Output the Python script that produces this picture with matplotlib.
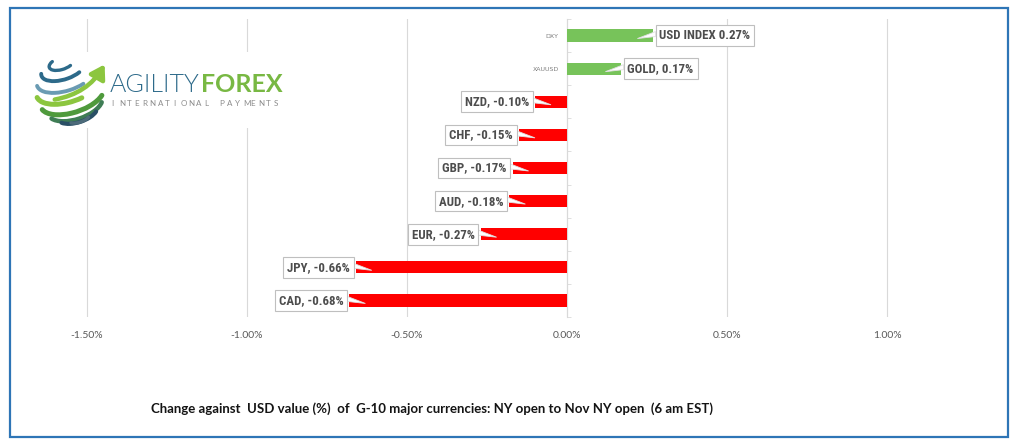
import matplotlib
matplotlib.use("Agg")
import matplotlib.pyplot as plt
from matplotlib.patches import Polygon, Rectangle, Arc, FancyArrowPatch
import numpy as np

# ---- data ----
categories = ["CAD", "JPY", "EUR", "AUD", "GBP", "CHF", "NZD", "XAUUSD", "DXY"]
values = [-0.68, -0.66, -0.27, -0.18, -0.17, -0.15, -0.10, 0.17, 0.27]
labels = ["CAD, -0.68%", "JPY, -0.66%", "EUR, -0.27%", "AUD, -0.18%", "GBP, -0.17%",
          "CHF, -0.15%", "NZD, -0.10%", "GOLD, 0.17%", "USD INDEX 0.27%"]
xticks = [-1.5, -1.0, -0.5, 0.0, 0.5, 1.0]
xticklabels = ["-1.50%", "-1.00%", "-0.50%", "0.00%", "0.50%", "1.00%"]
title = "Change against  USD value (%)  of  G-10 major currencies: NY open to Nov NY open  (6 am EST)"

W, H = 1024, 447
fig = plt.figure(figsize=(W / 100, H / 100), dpi=100)
fig.patch.set_facecolor("white")
FAM = ["Lato", "DejaVu Sans"]
LABFAM = ["Roboto Condensed", "DejaVu Sans"]


def fx(px):
    return px / W


def fy(py):
    return 1 - py / H


# axes in pixel terms
axL, axR, axT, axB = 71, 983, 19, 317
ax = fig.add_axes([fx(axL), fy(axB), fx(axR - axL), (axB - axT) / H])
ax.set_xlim(-1.55, 1.3)
ax.set_ylim(-0.5, 8.5)

pos_col = "#77c35a"
neg_col = "#ff0000"
y = np.arange(len(categories))
colors = [pos_col if v > 0 else neg_col for v in values]
ax.barh(y, values, height=0.37, color=colors, zorder=3)

for s in ["top", "right", "bottom"]:
    ax.spines[s].set_visible(False)
ax.spines["left"].set_position(("data", 0))
ax.spines["left"].set_color("#d9d9d9")
ax.spines["left"].set_zorder(1)
ax.set_xticks(xticks)
ax.set_xticklabels(xticklabels)
ax.tick_params(axis="x", length=0, pad=10, labelsize=7.5, labelcolor="#595959")
for t in ax.get_xticklabels():
    t.set_fontfamily(FAM)
ax.xaxis.grid(True, color="#d9d9d9", linewidth=0.8, zorder=0)
ax.set_axisbelow(True)

ax.set_yticks(y)
ax.set_yticklabels(categories)
ax.tick_params(axis="y", length=0, pad=6, labelsize=4.5)
for t, v in zip(ax.get_yticklabels(), values):
    t.set_color("#7f7f7f" if v > 0 else "#e40000")
    t.set_zorder(2)
ax.set_yticks(np.arange(-0.5, len(categories), 1.0), minor=True)
ax.tick_params(axis="y", which="minor", length=3, color="#d9d9d9", direction="in")

fig.canvas.draw()
renderer = fig.canvas.get_renderer()

for yi, v, lab in zip(y, values, labels):
    bx, by = ax.transData.transform((v, yi))
    sign = 1 if v > 0 else -1
    tx = bx + sign * 6
    t = fig.text(fx(tx), fy(H - by), lab, ha="left" if v > 0 else "right", va="center",
                 fontsize=9.3, fontweight="bold", color="#4d4d4d",
                 family=LABFAM, zorder=6,
                 bbox=dict(boxstyle="square,pad=0.3", fc="white", ec="#bfbfbf", lw=0.8))
    fig.canvas.draw()
    bb = t.get_bbox_patch().get_window_extent(renderer)
    edge = bb.x0 if v > 0 else bb.x1
    tri = [(edge, by + 4), (edge, by - 1), (bx - sign * 16, by - 3)]
    fig.patches.append(Polygon(tri, closed=True, transform=None, fc="white",
                               ec="#e0e0e0", lw=0.6, zorder=5, figure=fig))

# title
fig.text(fx(432), fy(409), title, ha="center", va="center", fontsize=9.5,
         fontweight="bold", color="#141414", family=FAM)

# outer border
fig.patches.append(Rectangle((fx(10), fy(437)), fx(998), (437 - 8) / H,
                             transform=fig.transFigure, fill=False,
                             ec="#2e75b6", lw=1.6, figure=fig, zorder=10))

# ---- logo ----
lx0, lx1, ly0, ly1 = 28, 292, 52, 128
lax = fig.add_axes([fx(lx0), fy(ly1), fx(lx1 - lx0), (ly1 - ly0) / H], zorder=4)
lax.set_xlim(lx0, lx1)
lax.set_ylim(H - ly1, H - ly0)
lax.set_facecolor("white")
for s in lax.spines.values():
    s.set_visible(False)
lax.set_xticks([])
lax.set_yticks([])


def Y(py):
    return H - py


blue = "#2d6a8a"
dblue = "#2a4f66"
lgreen = "#8cc63f"
dgreen = "#4f9a3c"
cx, cy, r = 70, 90, 34
tilt = np.radians(28)
rot = 18
# (latitude deg, colour, linewidth, theta1, theta2)
lats = [
    (68, blue, 2.4, 150, 330),
    (48, blue, 2.8, 175, 330),
    (28, "#6a9bb3", 2.8, 180, 320),
    (8, lgreen, 3.6, 182, 300),
    (-14, dgreen, 3.6, 185, 345),
    (-34, "#3f7d55", 3.2, 190, 350),
    (-52, dblue, 3.0, 195, 345),
    (-70, "#4d6b7a", 2.4, 200, 340),
]
ca, sa = np.cos(np.radians(rot)), np.sin(np.radians(rot))
for lat, col, lw, t1, t2 in lats:
    la = np.radians(lat)
    w = 2 * r * np.cos(la)
    h = w * np.sin(tilt)
    off = r * np.sin(la) * np.cos(tilt)
    ex, ey = cx - off * sa, Y(cy) + off * ca
    lax.add_patch(Arc((ex, ey), w, h, angle=rot, theta1=t1, theta2=t2,
                      color=col, lw=lw, capstyle="round"))
lax.add_patch(FancyArrowPatch((52, Y(100)), (106, Y(62)),
                              connectionstyle="arc3,rad=0.25",
                              arrowstyle="-|>,head_length=8,head_width=5",
                              lw=3.2, color=lgreen, mutation_scale=1))

ta = lax.text(110, Y(85), "AGILITY", fontsize=18, color=blue, va="center", ha="left",
              family=FAM, fontweight=300)
fig.canvas.draw()
bb = ta.get_window_extent(renderer)
xa = lax.transData.inverted().transform((bb.x1, 0))[0]
lax.text(xa + 1, Y(85), "FOREX", fontsize=18, color="#78b843", va="center", ha="left",
         family=FAM, fontweight="bold")
sub = "INTERNATIONAL PAYMENTS"
for k, ch in enumerate(sub):
    lax.text(111 + k * 7.75, Y(103.5), ch, fontsize=5.8, color="#8c8c8c",
             va="center", ha="left", family=FAM)

fig.savefig("out.png", dpi=100)
